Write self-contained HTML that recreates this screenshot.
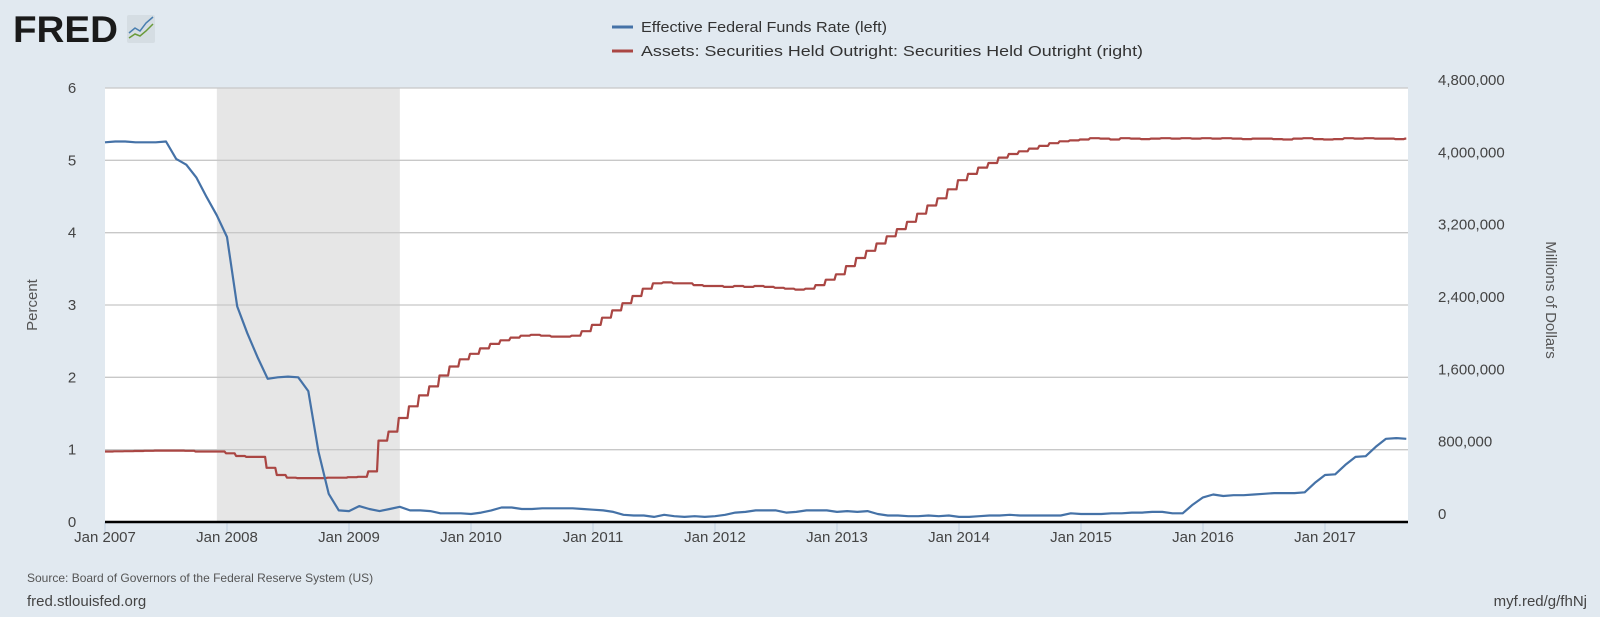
<!DOCTYPE html>
<html><head><meta charset="utf-8"><style>
html,body{margin:0;padding:0;background:#e1e9f0;}
svg{display:block;font-family:"Liberation Sans",sans-serif;}
</style></head><body>
<svg id="chart" width="1600" height="617" viewBox="0 0 1600 617">
<rect x="0" y="0" width="1600" height="617" fill="#e1e9f0"/>
<g>
<text x="13" y="42" font-size="37" font-weight="bold" fill="#1a1a1a" textLength="105" lengthAdjust="spacingAndGlyphs">FRED</text>
<rect x="127" y="15" width="28" height="28" rx="2" fill="#d5dde3"/>
<polyline points="129,33 135,28 140,31 146,23 153,17" fill="none" stroke="#4a7fb0" stroke-width="1.5"/>
<polyline points="129,38 135,34 140,36 146,31 153,24" fill="none" stroke="#6a9a3a" stroke-width="1.5"/>
</g>
<g>
<line x1="612" y1="27" x2="633" y2="27" stroke="#4572a7" stroke-width="3"/>
<text x="641" y="32" font-size="15" fill="#333" textLength="246" lengthAdjust="spacingAndGlyphs">Effective Federal Funds Rate (left)</text>
<line x1="612" y1="51" x2="633" y2="51" stroke="#aa4643" stroke-width="3"/>
<text x="641" y="56" font-size="15" fill="#333" textLength="502" lengthAdjust="spacingAndGlyphs">Assets: Securities Held Outright: Securities Held Outright (right)</text>
</g>
<rect x="105" y="88" width="1303" height="434" fill="#fff"/>
<g id="recess"></g>
<g id="grid"></g>
<g id="lines"></g>
<g id="axes"></g>
<text transform="translate(37,305) rotate(-90)" text-anchor="middle" font-size="15" fill="#555">Percent</text>
<text transform="translate(1546,300) rotate(90)" text-anchor="middle" font-size="15" fill="#555">Millions of Dollars</text>
<text x="27" y="582" font-size="12" fill="#555">Source: Board of Governors of the Federal Reserve System (US)</text>
<text x="27" y="606" font-size="15" fill="#444">fred.stlouisfed.org</text>
<text x="1587" y="606" text-anchor="end" font-size="15" fill="#444">myf.red/g/fhNj</text>
</svg>
<script>
const startYear = 2007;
const ffr = [
5.25,5.26,5.26,5.25,5.25,5.25,5.26,5.02,4.94,4.76,4.49,4.24,
3.94,2.98,2.61,2.28,1.98,2.00,2.01,2.00,1.81,0.97,0.39,0.16,
0.15,0.22,0.18,0.15,0.18,0.21,0.16,0.16,0.15,0.12,0.12,0.12,
0.11,0.13,0.16,0.20,0.20,0.18,0.18,0.19,0.19,0.19,0.19,0.18,
0.17,0.16,0.14,0.10,0.09,0.09,0.07,0.10,0.08,0.07,0.08,0.07,
0.08,0.10,0.13,0.14,0.16,0.16,0.16,0.13,0.14,0.16,0.16,0.16,
0.14,0.15,0.14,0.15,0.11,0.09,0.09,0.08,0.08,0.09,0.08,0.09,
0.07,0.07,0.08,0.09,0.09,0.10,0.09,0.09,0.09,0.09,0.09,0.12,
0.11,0.11,0.11,0.12,0.12,0.13,0.13,0.14,0.14,0.12,0.12,0.24,
0.34,0.38,0.36,0.37,0.37,0.38,0.39,0.40,0.40,0.40,0.41,0.54,
0.65,0.66,0.79,0.90,0.91,1.04,1.15,1.16,1.15];
const securities = [
780,782,783,785,787,790,790,790,788,780,780,780,
760,730,720,720,600,520,490,485,485,485,490,490,
495,500,560,900,1000,1150,1280,1400,1500,1620,1720,1800,
1860,1920,1970,2010,2040,2060,2070,2060,2050,2050,2060,2110,
2180,2260,2340,2420,2500,2580,2640,2650,2640,2640,2620,2610,
2610,2600,2610,2600,2610,2600,2590,2580,2570,2580,2620,2680,
2740,2830,2920,3000,3080,3160,3240,3320,3410,3500,3580,3680,
3780,3850,3920,3970,4030,4070,4100,4130,4160,4190,4210,4220,
4230,4245,4240,4230,4245,4240,4235,4240,4245,4240,4245,4240,
4245,4240,4245,4240,4235,4240,4240,4235,4230,4240,4245,4235,
4230,4235,4245,4240,4245,4240,4240,4235,4240].map(v=>v*1000);
const leftTicks = [0,1,2,3,4,5,6];
const rightTicks = ["0","800,000","1,600,000","2,400,000","3,200,000","4,000,000","4,800,000"];
const yearLabels = ["Jan 2007","Jan 2008","Jan 2009","Jan 2010","Jan 2011","Jan 2012","Jan 2013","Jan 2014","Jan 2015","Jan 2016","Jan 2017"];
const recession = [2007+11/12, 2009+5/12];

const NS="http://www.w3.org/2000/svg";
const X0=105,X1=1408,Y0=522,Y1=88,PPY=122;
const x = t => X0 + (t-startYear)*PPY;
const yL = v => Y0 - v/6*(Y0-Y1);
const yR = v => yL(v/800000);
function mk(tag,attrs,parent){const e=document.createElementNS(NS,tag);for(const k in attrs)e.setAttribute(k,attrs[k]);parent.appendChild(e);return e;}
const grid=document.getElementById('grid'),axes=document.getElementById('axes'),lines=document.getElementById('lines'),rec=document.getElementById('recess');
const r=mk('rect',{x:x(recession[0]),y:Y1,width:x(recession[1])-x(recession[0]),height:Y0-Y1,fill:'#e6e6e6'},rec);


leftTicks.forEach((v,i)=>{
  if(v>0){const g=mk('line',{x1:X0,x2:X1,y1:yL(v),y2:yL(v),stroke:'#c8c8c8','stroke-width':1.3},grid);
  
  }
  const t=mk('text',{x:72,y:yL(v)+5,'text-anchor':'middle','font-size':15,fill:'#444'},axes);t.textContent=v;
  
  
  const t2=mk('text',{x:1438,y:yL(v)-3,'font-size':15,fill:'#444'},axes);t2.textContent=rightTicks[i];
  
  
});
yearLabels.forEach((s,i)=>{
  const xx=x(startYear+i);
  const tk=mk('line',{x1:xx,x2:xx,y1:Y0,y2:Y0+10,stroke:'#c0d0e0','stroke-width':1},axes);
  
  
  const t=mk('text',{x:xx,y:Y0+20,'text-anchor':'middle','font-size':15,fill:'#444'},axes);t.textContent=s;
  
  
});
function path(arr,fy,color,name,step){
  let d='';
  arr.forEach((v,i)=>{
    const xx=x(startYear+i/12), yy=fy(v);
    if(i===0){d+='M'+xx.toFixed(1)+','+yy.toFixed(1);return;}
    if(step){const xm=x(startYear+(i-0.25)/12);d+='L'+xm.toFixed(1)+','+fy(arr[i-1]).toFixed(1)+'L'+(xm+1.5).toFixed(1)+','+yy.toFixed(1);}
    d+='L'+xx.toFixed(1)+','+yy.toFixed(1);
  });
  const p=mk('path',{d:d,fill:'none',stroke:color,'stroke-width':2.2,'stroke-linejoin':'round'},lines);
  
  
}
path(securities,yR,'#aa4643','securities-line',true);
path(ffr,yL,'#4572a7','fed-funds-line',false);
const base=mk('line',{x1:X0,x2:X1,y1:Y0,y2:Y0,stroke:'#000','stroke-width':2.5},axes);


</script>
</body></html>
